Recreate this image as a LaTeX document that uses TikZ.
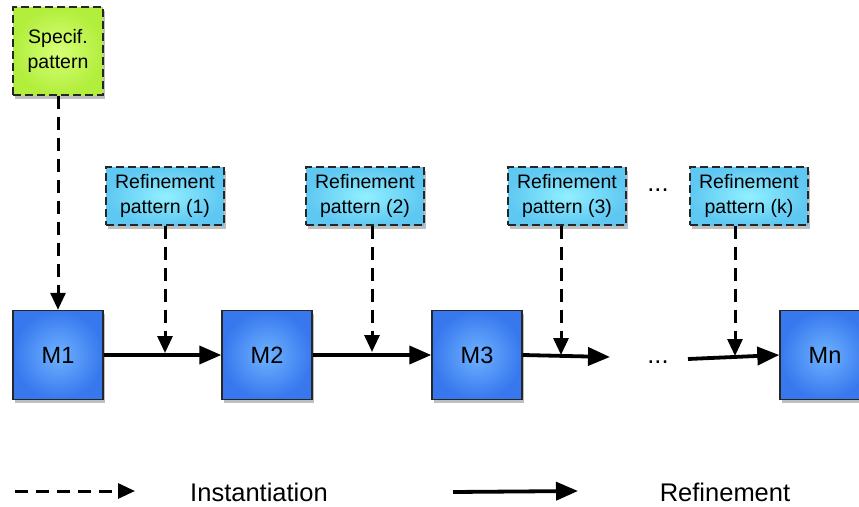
\documentclass[tikz,border=0pt]{standalone}
\usepackage{fontspec}
\setmainfont{Liberation Sans}
\usetikzlibrary{arrows.meta,shadows}
\begin{document}
\begin{tikzpicture}[x=1pt,y=-1pt,
  boxbase/.style={draw=black!85, line width=1.4pt, align=center, inner sep=2pt,
     drop shadow={opacity=0.5, shadow xshift=2pt, shadow yshift=-3.5pt}},
  specbox/.style={boxbase, dash pattern=on 8pt off 4pt, minimum width=90pt, minimum height=88pt, inner color={rgb,255:red,215;green,255;blue,120}, outer color={rgb,255:red,178;green,238;blue,60}, font=\fontsize{19.5}{25}\selectfont},
  refbox/.style={boxbase, dash pattern=on 8pt off 4pt, minimum width=118pt, minimum height=58pt, inner color={rgb,255:red,145;green,240;blue,255}, outer color={rgb,255:red,95;green,200;blue,242}, font=\fontsize{19.5}{25}\selectfont},
  mbox/.style={boxbase, minimum width=90pt, minimum height=89pt, inner color={rgb,255:red,110;green,178;blue,255}, outer color={rgb,255:red,55;green,120;blue,238}, font=\fontsize{23.5}{27}\selectfont},
  refarrow/.style={line width=3.8pt, -{Triangle[length=22pt,width=18pt]}},
  instarrow/.style={line width=3pt, dash pattern=on 13pt off 8pt, -{Triangle[length=17pt,width=15pt]}},
  lbl/.style={font=\fontsize{25.5}{28}\selectfont}
]
\useasboundingbox (0,0) rectangle (859,506);
\node[specbox] (spec) at (58,51) {Specif.\\pattern};
\node[refbox] (r1) at (165,196) {Refinement\\pattern (1)};
\node[refbox] (r2) at (365,196) {Refinement\\pattern (2)};
\node[refbox] (r3) at (567,196) {Refinement\\pattern (3)};
\node[refbox] (rk) at (749,196) {Refinement\\pattern (k)};
\node[lbl] (d1) at (658,190) {...};
\node[mbox] (m1) at (58,355) {M1};
\node[mbox] (m2) at (267,355) {M2};
\node[mbox] (m3) at (477,355) {M3};
\node[mbox] (mn) at (825,355) {Mn};
\node[lbl] (d2) at (658,362) {...};
% refinement arrows
\draw[refarrow] (m1.east) -- (m2.west);
\draw[refarrow] (m2.east) -- (m3.west);
\coordinate (e3) at (610,357);
\coordinate (sk) at (688,359);
\draw[refarrow] (m3.east) -- (e3);
\draw[refarrow] (sk) -- (mn.west);
% instantiation arrows
\coordinate (j1) at (165,353);
\coordinate (j2) at (372,352);
\coordinate (j3) at (561,355);
\coordinate (jk) at (735,356);
\draw[instarrow] (spec.south) -- (m1.north);
\draw[instarrow] (r1.south) -- (j1);
\draw[instarrow] (r2.south -| j2) -- (j2);
\draw[instarrow] (r3.south -| j3) -- (j3);
\draw[instarrow] (rk.south -| jk) -- (jk);
% legend
\coordinate (la) at (15,491);
\coordinate (lb) at (135,491);
\coordinate (lc) at (453,492);
\coordinate (ld) at (578,491);
\draw[instarrow] (la) -- (lb);
\node[lbl] (l1) at (259,492) {Instantiation};
\draw[refarrow] (lc) -- (ld);
\node[lbl] (l2) at (725,492) {Refinement};
\end{tikzpicture}
\end{document}
